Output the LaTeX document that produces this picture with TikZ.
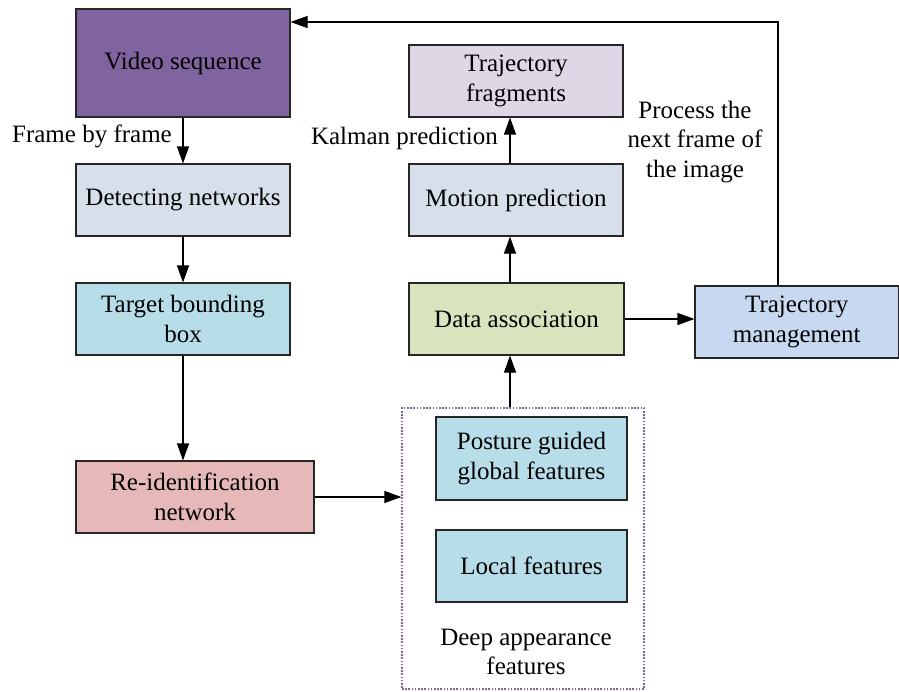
\documentclass[tikz,border=0pt]{standalone}
\usepackage{fontspec}
\setmainfont{Liberation Serif}
\usetikzlibrary{arrows.meta}
\definecolor{cvideo}{HTML}{7F649F}
\definecolor{cdetect}{HTML}{D6DFEA}
\definecolor{cfrag}{HTML}{DED7E6}
\definecolor{cteal}{HTML}{B7DDE8}
\definecolor{cpink}{HTML}{E6B9B8}
\definecolor{cgreen}{HTML}{D7E4BD}
\definecolor{cblue}{HTML}{C6D9F1}
\definecolor{cdot}{HTML}{8064A2}
\begin{document}
\begin{tikzpicture}[x=1pt,y=-1pt,
  box/.style={draw=black!85,line width=1.1pt,align=center,inner sep=0pt,
    font=\fontsize{25}{29.5}\selectfont},
  lbl/.style={align=center,inner sep=0pt,font=\fontsize{25}{29.5}\selectfont},
  arr/.style={line width=1.1pt,-{Triangle[length=17pt,width=12pt]}}]
\useasboundingbox (0,0) rectangle (899,691);
\node[box,fill=cvideo,minimum width=214pt,minimum height=108pt] (video) at (183,63) {Video sequence};
\node[box,fill=cdetect,minimum width=214pt,minimum height=72pt] (detect) at (183,200) {Detecting networks};
\node[box,fill=cteal,minimum width=214pt,minimum height=72pt] (target) at (183,319) {Target bounding\\box};
\node[box,fill=cpink,minimum width=238pt,minimum height=72pt] (reid) at (195,497) {Re-identification\\network};
\node[box,fill=cfrag,minimum width=214pt,minimum height=72pt] (frag) at (516,81) {Trajectory\\fragments};
\node[box,fill=cdetect,minimum width=214pt,minimum height=72pt] (motion) at (516,200) {Motion prediction};
\node[box,fill=cgreen,minimum width=215pt,minimum height=72pt] (data) at (516.5,319) {Data association};
\node[box,fill=cblue,minimum width=203.5pt,minimum height=72pt] (mgmt) at (796.75,322) {Trajectory\\management};
\node[draw=cdot,dash pattern=on 1.6pt off 1.6pt,line width=1.2pt,minimum width=242pt,minimum height=281pt,inner sep=0pt] (deep) at (523,548.5) {};
\node[box,fill=cteal,minimum width=191pt,minimum height=83pt] (posture) at (531.5,458.5) {Posture guided\\global features};
\node[box,fill=cteal,minimum width=191pt,minimum height=72pt] (local) at (531.5,566) {Local features};
\node[lbl] (deeplbl) at (526,652) {Deep appearance\\features};
\node[lbl,anchor=east] (frame) at (172,136) {Frame by frame};
\node[lbl,anchor=east] (kalman) at (498,138) {Kalman prediction};
\node[lbl] (process) at (695,142) {Process the\\next frame of\\the image};
\coordinate (ax) at (510,0);
\coordinate (bx) at (778,0);
\coordinate (topy) at (0,22);
\draw[arr] (video) -- (detect);
\draw[arr] (detect) -- (target);
\draw[arr] (target) -- (target.south |- reid.north);
\draw[arr] (reid.east) -- (reid.east -| deep.west);
\draw[arr] (deep.north -| ax) -- (data.south -| ax);
\draw[arr] (data.north -| ax) -- (motion.south -| ax);
\draw[arr] (motion.north -| ax) -- (frag.south -| ax);
\draw[arr] (data.east) -- (data.east -| mgmt.west);
\draw[arr] (mgmt.north -| bx) -- (bx |- topy) -- (topy -| video.east);
\end{tikzpicture}
\end{document}
